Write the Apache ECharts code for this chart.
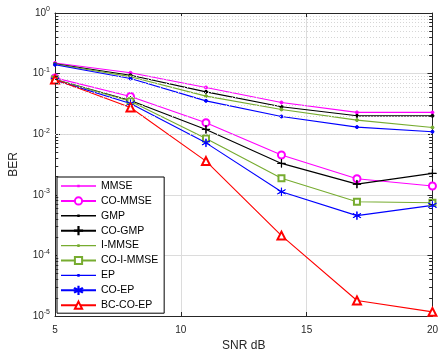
<!DOCTYPE html>
<html><head><meta charset="utf-8">
<script src="https://cdn.jsdelivr.net/npm/echarts@6/dist/echarts.min.js"></script>
<style>html,body{margin:0;padding:0;background:#fff}#c{width:441px;height:358px}</style>
</head><body><div id="c"></div>
<script>
var snr = [5, 8, 11, 14, 17, 20];
var seriesNames = ['MMSE','CO-MMSE','GMP','CO-GMP','I-MMSE','CO-I-MMSE','EP','CO-EP','BC-CO-EP'];
var mmse     = [0.150, 0.103, 0.059, 0.0334, 0.0229, 0.0229];
var coMmse   = [0.085, 0.0418, 0.0155, 0.00453, 0.00184, 0.0014];
var gmp      = [0.145, 0.094, 0.050, 0.0283, 0.0201, 0.0201];
var coGmp    = [0.080, 0.036, 0.0120, 0.0033, 0.0015, 0.00226];
var iMmse    = [0.143, 0.089, 0.0425, 0.0256, 0.0171, 0.0129];
var coIMmse  = [0.080, 0.035, 0.0085, 0.00187, 0.00077, 0.00074];
var ep       = [0.140, 0.083, 0.0355, 0.0196, 0.0131, 0.0110];
var coEp     = [0.078, 0.032, 0.0072, 0.00112, 0.000453, 0.00067];
var bcCoEp   = [0.080, 0.0276, 0.0036, 0.000212, 0.000018, 0.0000117];
var yTicks = [1e-5, 1e-4, 1e-3, 1e-2, 1e-1, 1];
var xTicks = [5, 10, 15, 20];
var yMinor = [];
for (var k = -5; k < 0; k++) for (var m = 2; m <= 9; m++) yMinor.push(m * Math.pow(10, k));

var C = {mag:'#ff00ff', blk:'#000000', grn:'#77ac30', blu:'#0000ff', red:'#ff0000'};
var plusPath = 'path://M-0.03,-1H0.03V1H-0.03Z M-1,-0.03H1V0.03H-1Z';
var starPath = 'path://M-0.02,-1H0.02V1H-0.02Z M-0.87,-0.5L0.85,0.53L0.87,0.5L-0.85,-0.53Z M0.87,-0.5L-0.85,0.53L-0.87,0.5L0.85,-0.53Z';
var dotLineIcon = 'path://M0,0M35,9M0,3.8H35V5.2H0Z M16.3,3.2H18.7V5.8H16.3Z';

function mk(name, data, color, symbol, size) {
  return {
    name: name, type: 'line', data: snr.map(function(x,i){return [x, data[i]];}),
    symbol: symbol, symbolSize: size, showSymbol: true,
    lineStyle: {color: color, width: 1.1},
    itemStyle: {color: color, borderColor: color, borderWidth: 1},
    emphasis: {disabled: true}, animation: false, z: 3
  };
}
var series = [
  mk('MMSE', mmse, C.mag, 'circle', 3),
  mk('CO-MMSE', coMmse, C.mag, 'emptyCircle', 7),
  mk('GMP', gmp, C.blk, 'circle', 3),
  mk('CO-GMP', coGmp, C.blk, plusPath, 8),
  mk('I-MMSE', iMmse, C.grn, 'circle', 3),
  mk('CO-I-MMSE', coIMmse, C.grn, 'emptyRect', 6),
  mk('EP', ep, C.blu, 'circle', 3),
  mk('CO-EP', coEp, C.blu, starPath, 8),
  mk('BC-CO-EP', bcCoEp, C.red, 'emptyTriangle', 8)
];
var tickData = [];
yMinor.forEach(function(v){
  tickData.push([{coord: [5, v]}, {coord: [5.13, v]}]);
  tickData.push([{coord: [20, v]}, {coord: [19.87, v]}]);
});
series.push({
  name: 'minorgrid', type: 'line', data: [], silent: true, animation: false, z: 1,
  markLine: {silent: true, symbol: ['none','none'], animation: false, label: {show: false},
    lineStyle: {color: '#d6d6d6', type: [1,2], width: 1},
    emphasis: {disabled: true},
    data: yMinor.map(function(v){return {yAxis: v};})}
});
series.push({
  name: 'minorticks', type: 'line', data: [], silent: true, animation: false, z: 4,
  markLine: {silent: true, symbol: ['none','none'], animation: false, label: {show: false},
    lineStyle: {color: '#262626', type: 'solid', width: 1},
    emphasis: {disabled: true},
    data: tickData}
});

function supLabel(v) {
  var e = Math.round(Math.log10(v));
  return '{b|10}{e|' + e + '}';
}
var dotNames = {'MMSE':1, 'GMP':1, 'I-MMSE':1, 'EP':1};
var txt = '#262626';
var chart = echarts.init(document.getElementById('c'), null, {renderer: 'canvas'});
chart.setOption({
  backgroundColor: '#fff',
  animation: false,
  grid: {left: 52, right: 1, top: 13, bottom: 42, show: false},
  legend: {
    data: seriesNames.map(function(n){
      return dotNames[n] ? {name: n, icon: dotLineIcon, itemStyle: {borderWidth: 0}} : {name: n};
    }),
    orient: 'vertical', left: 57, top: 177,
    backgroundColor: '#fff', borderColor: '#000', borderWidth: 1,
    padding: [3, 6, 2, 3], itemGap: 2.9, itemWidth: 35, itemHeight: 9,
    textStyle: {fontFamily: 'Liberation Sans, Arial', fontSize: 10.5, color: '#000', lineHeight: 12},
    selectedMode: false
  },
  xAxis: [{
    type: 'value', min: 5, max: 20, interval: 5,
    name: 'SNR dB', nameLocation: 'middle', nameGap: 24,
    nameTextStyle: {fontFamily: 'Liberation Sans, Arial', fontSize: 12, color: txt},
    axisLine: {show: true, lineStyle: {color: txt}},
    axisTick: {show: true, inside: true, length: 4, lineStyle: {color: txt}},
    axisLabel: {fontFamily: 'Liberation Sans, Arial', fontSize: 10, color: txt, margin: 9,
      alignMinLabel: 'center', alignMaxLabel: 'center'},
    splitLine: {show: true, lineStyle: {color: '#dcdcdc', width: 1}}
  }, {
    type: 'value', min: 5, max: 20, interval: 5, position: 'top',
    axisLine: {show: true, lineStyle: {color: txt}},
    axisTick: {show: true, inside: true, length: 4, lineStyle: {color: txt}},
    axisLabel: {show: false}, splitLine: {show: false}
  }],
  yAxis: [{
    type: 'log', logBase: 10, min: 1e-5, max: 1, interval: 1,
    name: 'BER', nameLocation: 'middle', nameGap: 35,
    nameTextStyle: {fontFamily: 'Liberation Sans, Arial', fontSize: 12, color: txt},
    axisLine: {show: true, lineStyle: {color: txt}},
    axisTick: {show: true, inside: true, length: 5, lineStyle: {color: txt}},
    axisLabel: {margin: 5, color: txt, formatter: supLabel,
      rich: {b: {fontFamily: 'Liberation Sans, Arial', fontSize: 10, color: txt},
             e: {fontFamily: 'Liberation Sans, Arial', fontSize: 7, color: txt, padding: [0,0,7,0]}}},
    splitLine: {show: true, lineStyle: {color: '#dcdcdc', width: 1}}
  }, {
    type: 'log', logBase: 10, min: 1e-5, max: 1, interval: 1, position: 'right',
    axisLine: {show: true, lineStyle: {color: txt}},
    axisTick: {show: true, inside: true, length: 5, lineStyle: {color: txt}},
    axisLabel: {show: false}, splitLine: {show: false}
  }],
  series: series
});
</script></body></html>
